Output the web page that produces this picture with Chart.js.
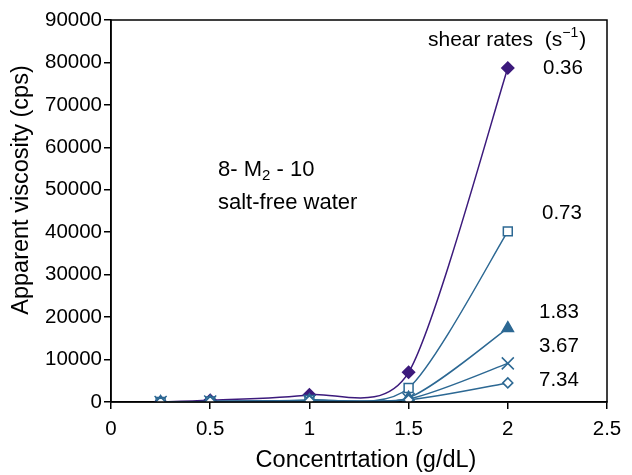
<!DOCTYPE html>
<html>
<head>
<meta charset="utf-8">
<script src="https://cdn.jsdelivr.net/npm/chart.js@4"></script>
<style>
  html, body { margin: 0; padding: 0; background: #fff; }
  #wrap { width: 632px; height: 475px; }
</style>
</head>
<body>
<div id="wrap"><canvas id="chart" width="632" height="475"></canvas></div>
<script>
// concentração (g/dL)
const concentracao = [0.25, 0.5, 1, 1.5, 2];

// viscosidade aparente (cps) por taxa de cisalhamento
const taxas = ['0.36', '0.73', '1.83', '3.67', '7.34'];
const visc036 = [0, 400, 1700, 7000, 78700];
const visc073 = [0, 100, 500, 3300, 40200];
const visc183 = [0, 100, 400, 1000, 17400];
const visc367 = [0, 100, 300, 700, 9100];
const visc734 = [0, 100, 300, 500, 4500];

const yTicks = [0, 10000, 20000, 30000, 40000, 50000, 60000, 70000, 80000, 90000];
const xTicks = [0, 0.5, 1, 1.5, 2, 2.5];

const tituloX = 'Concentrtation (g/dL)';
const tituloY = 'Apparent viscosity (cps)';

const roxo = '#3c1a7c';
const azul = '#2c6893';
const fonte = 'Liberation Sans, Arial, Helvetica, sans-serif';

function pontos(vals) {
    return vals.map((v, i) => ({ x: concentracao[i], y: v }));
}

// textos soltos dentro do gráfico
const anotacoes = [
    { t: '0.36', x: 543, y: 68 },
    { t: '0.73', x: 542, y: 213 },
    { t: '1.83', x: 539, y: 312 },
    { t: '3.67', x: 539, y: 346 },
    { t: '7.34', x: 539, y: 380 }
];

// suavização parecida com a do Excel
const suavePlugin = {
    id: 'suave',
    beforeDatasetsDraw(chart) {
        const f = 0.13;
        chart.data.datasets.forEach((ds, i) => {
            const meta = chart.getDatasetMeta(i);
            const line = meta.dataset;
            if (line && line.updateControlPoints) line.updateControlPoints(chart.chartArea);
            const pts = meta.data;
            pts.forEach((p, k) => {
                const prev = pts[k - 1] || p;
                const next = pts[k + 1] || p;
                p.cp1x = p.x - (next.x - prev.x) * f;
                p.cp1y = p.y - (next.y - prev.y) * f;
                p.cp2x = p.x + (next.x - prev.x) * f;
                p.cp2y = p.y + (next.y - prev.y) * f;
            });
        });
    }
};

const textoPlugin = {
    id: 'textos',
    afterDraw(chart) {
        const ctx = chart.ctx;
        const a = chart.chartArea;
        ctx.save();
        // moldura da área do gráfico
        ctx.strokeStyle = '#000';
        ctx.lineWidth = 1.5;
        ctx.strokeRect(a.left, a.top, a.right - a.left, a.bottom - a.top);

        ctx.fillStyle = '#000';
        ctx.textBaseline = 'middle';

        // títulos dos eixos
        ctx.textAlign = 'center';
        ctx.font = '23.5px ' + fonte;
        ctx.fillText(tituloX, 366, 461);
        ctx.save();
        ctx.translate(22, 190);
        ctx.rotate(-Math.PI / 2);
        ctx.fillText(tituloY, 0, 0);
        ctx.restore();

        ctx.textAlign = 'left';
        ctx.font = '20.5px ' + fonte;
        anotacoes.forEach(n => ctx.fillText(n.t, n.x, n.y));

        // "8- M2 - 10" / "salt-free water"
        ctx.font = '22px ' + fonte;
        ctx.fillText('salt-free water', 218, 203);
        let x = 218;
        ctx.fillText('8- M', x, 170);
        x += ctx.measureText('8- M').width;
        ctx.font = '15px ' + fonte;
        ctx.fillText('2', x, 176);
        x += ctx.measureText('2').width;
        ctx.font = '22px ' + fonte;
        ctx.fillText(' - 10', x, 170);

        // "shear rates (s-1)"
        x = 428;
        ctx.font = '21px ' + fonte;
        ctx.fillText('shear rates  (s', x, 40);
        x += ctx.measureText('shear rates  (s').width;
        ctx.font = '14px ' + fonte;
        ctx.fillText('\u22121', x, 33);
        x += ctx.measureText('\u22121').width;
        ctx.font = '21px ' + fonte;
        ctx.fillText(')', x + 1, 40);
        ctx.restore();
    }
};

const serie = (label, vals, cor, estilo, preenchido, raio) => ({
    label: label,
    data: pontos(vals),
    borderColor: cor,
    backgroundColor: preenchido ? cor : '#fff',
    pointBorderColor: cor,
    pointBackgroundColor: preenchido ? cor : '#fff',
    pointStyle: estilo,
    pointRadius: raio,
    pointBorderWidth: 1.5,
    borderWidth: 1.5,
    tension: 0.3,
    fill: false
});

new Chart(document.getElementById('chart'), {
    type: 'line',
    data: {
        datasets: [
            serie(taxas[4], visc734, azul, 'rectRot', false, 5),
            serie(taxas[3], visc367, azul, 'crossRot', false, 8.5),
            serie(taxas[2], visc183, azul, 'triangle', true, 6.5),
            serie(taxas[1], visc073, azul, 'rect', false, 6.3),
            serie(taxas[0], visc036, roxo, 'rectRot', true, 6)
        ]
    },
    options: {
        responsive: false,
        animation: false,
        layout: { padding: { top: 20, right: 25, left: 8, bottom: 2 } },
        plugins: {
            legend: { display: false },
            tooltip: { enabled: false }
        },
        scales: {
            x: {
                type: 'linear',
                min: 0,
                max: 2.5,
                afterBuildTicks: s => { s.ticks = xTicks.map(v => ({ value: v })); },
                afterFit: s => { s.height = 71; },
                grid: { drawOnChartArea: false, drawTicks: true, tickLength: 7, color: '#000', lineWidth: 1.5 },
                border: { color: '#000', width: 1.5 },
                ticks: { color: '#000', font: { size: 20.5, family: fonte }, padding: 8, maxRotation: 0, callback: v => String(v) },
                title: { display: false }
            },
            y: {
                min: 0,
                max: 90000,
                afterBuildTicks: s => { s.ticks = yTicks.map(v => ({ value: v })); },
                afterFit: s => { s.width = 103; },
                grid: { drawOnChartArea: false, drawTicks: true, tickLength: 7, color: '#000', lineWidth: 1.5 },
                border: { color: '#000', width: 1.5 },
                ticks: { color: '#000', font: { size: 20.5, family: fonte }, padding: 2, callback: v => String(v) },
                title: { display: false }
            }
        }
    },
    plugins: [suavePlugin, textoPlugin]
});
</script>
</body>
</html>
